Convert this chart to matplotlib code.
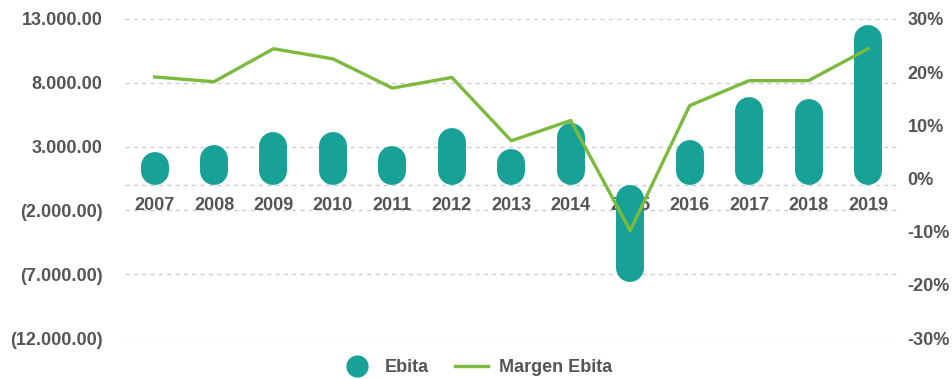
import matplotlib.pyplot as plt
import numpy as np
from matplotlib.lines import Line2D
from matplotlib.ticker import FuncFormatter

plt.rcParams['font.family'] = ['Liberation Sans', 'DejaVu Sans']

# datos
years = ['2007', '2008', '2009', '2010', '2011', '2012', '2013',
         '2014', '2015', '2016', '2017', '2018', '2019']
ebita = [2600, 3100, 4150, 4150, 3050, 4450, 2800,
         4850, -7600, 3500, 6900, 6700, 12500]
margen = [0.191, 0.182, 0.244, 0.225, 0.170, 0.190, 0.071,
          0.109, -0.098, 0.137, 0.184, 0.184, 0.244]
left_ticks = [13000, 8000, 3000, -2000, -7000, -12000]
right_ticks = [0.3, 0.2, 0.1, 0.0, -0.1, -0.2, -0.3]

teal = '#17a197'
green = '#7cba3d'
txt = '#555555'

fig = plt.figure(figsize=(9.53, 3.79), dpi=100)
ax = fig.add_axes([0.131, 0.108, 0.811, 0.842])
x = np.arange(len(years))

ax.set_xlim(-0.5, len(years) - 0.5)
ax.set_ylim(-12000, 13000)

# barras tipo "pill": trazo grueso con extremos redondos
bw = 0.47
px_x = ax.transData.transform((1, 0))[0] - ax.transData.transform((0, 0))[0]
px_y = ax.transData.transform((0, 1000))[1] - ax.transData.transform((0, 0))[1]
w_px = bw * px_x
r = (w_px / 2) / px_y * 1000          # radio del extremo en unidades del eje y
for xi, v in zip(x, ebita):
    y0, y1 = min(0, v), max(0, v)
    ax.plot([xi, xi], [y0 + r, y1 - r], color=teal, lw=w_px * 72 / fig.dpi,
            solid_capstyle='round', zorder=2)

# rejilla
for v in left_ticks + [0]:
    ax.axhline(v, color='#cccccc', lw=1, ls=(0, (3, 3)), zorder=0)

ax.set_yticks(left_ticks)
ax.yaxis.set_major_formatter(FuncFormatter(
    lambda v, p: f"{v:,.2f}".replace(',', '.') if v >= 0
    else "(" + f"{-v:,.2f}".replace(',', '.') + ")"))
ax.tick_params(axis='y', length=0, pad=16, labelsize=13, labelcolor=txt)
ax.set_xticks([])
for s in ax.spines.values():
    s.set_visible(False)
for lab in ax.get_yticklabels():
    lab.set_fontweight('bold')

# etiquetas de años
for i, yr in enumerate(years):
    ax.text(i, -1650, yr, ha='center', va='center', fontsize=13,
            fontweight='bold', color=txt, zorder=1)

# eje derecho
ax2 = ax.twinx()
ax2.set_ylim(-0.3, 0.3)
ax2.plot(x, margen, color=green, lw=2.4, zorder=3)
ax2.set_yticks(right_ticks)
ax2.yaxis.set_major_formatter(FuncFormatter(lambda v, p: f"{v * 100:.0f}%"))
ax2.tick_params(axis='y', length=0, pad=7, labelsize=13, labelcolor=txt)
for lab in ax2.get_yticklabels():
    lab.set_fontweight('bold')
for s in ax2.spines.values():
    s.set_visible(False)

# leyenda
handles = [Line2D([], [], marker='o', color='none', markerfacecolor=teal,
                  markeredgecolor='none', markersize=16),
           Line2D([], [], color=green, lw=2.4)]
leg = fig.legend(handles, ['Ebita', 'Margen Ebita'], loc='center',
                 bbox_to_anchor=(0.5, 0.03), ncol=2, frameon=False,
                 prop={'size': 13, 'weight': 'bold'}, handlelength=1.8,
                 columnspacing=1.5, handletextpad=0.6)
for t in leg.get_texts():
    t.set_color(txt)

fig.savefig('out.png', dpi=100)
